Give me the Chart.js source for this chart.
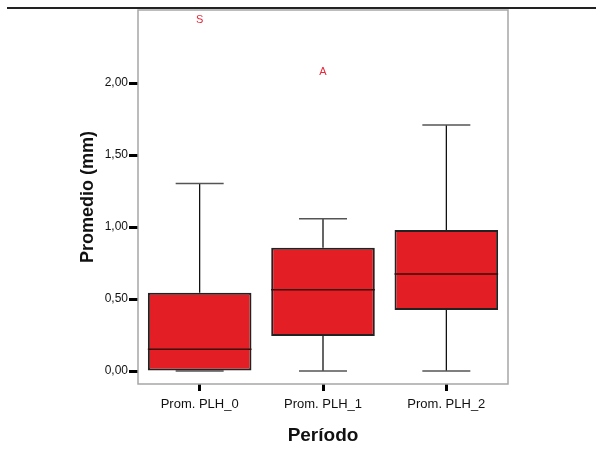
<!DOCTYPE html>
<html>
<head>
<meta charset="utf-8">
<script src="https://cdn.jsdelivr.net/npm/chart.js@4"></script>
<style>
  html, body { margin: 0; padding: 0; background: #fff; }
  #wrap { width: 596px; height: 451px; }
</style>
</head>
<body>
<div id="wrap"><canvas id="grafico"></canvas></div>
<script>
const categorias = ['Prom. PLH_0', 'Prom. PLH_1', 'Prom. PLH_2'];
const bigoteMin = [0, 0, 0];
const cuartil1 = [0, 0.243, 0.424];
const mediana = [0.151, 0.565, 0.674];
const cuartil3 = [0.544, 0.856, 0.979];
const bigoteMax = [1.303, 1.058, 1.708];
// valores atípicos (categoría, valor, etiqueta)
const atipicoCat = [0, 1];
const atipicoValor = [2.44, 2.08];
const atipicoEtiqueta = ['S', 'A'];
const ticksY = [0, 0.5, 1, 1.5, 2];

const rojo = '#e31e24';

// bigotes, medianas, marco y etiquetas de atípicos
const cajasPlugin = {
  id: 'cajas',
  beforeDatasetsDraw(chart) {
    const { ctx, scales: { x, y } } = chart;
    ctx.save();
    categorias.forEach((c, i) => {
      const cx = x.getPixelForValue(i);
      const half = 24;
      ctx.strokeStyle = '#000';
      ctx.lineWidth = 1.2;
      ctx.beginPath();
      ctx.moveTo(cx, y.getPixelForValue(cuartil3[i]));
      ctx.lineTo(cx, y.getPixelForValue(bigoteMax[i]));
      ctx.moveTo(cx, y.getPixelForValue(cuartil1[i]));
      ctx.lineTo(cx, y.getPixelForValue(bigoteMin[i]));
      ctx.stroke();
      ctx.strokeStyle = '#555';
      ctx.lineWidth = 1.5;
      ctx.beginPath();
      [bigoteMax[i], bigoteMin[i]].forEach(v => {
        const py = y.getPixelForValue(v);
        ctx.moveTo(cx - half, py);
        ctx.lineTo(cx + half, py);
      });
      ctx.stroke();
    });
    ctx.restore();
  },
  afterDatasetsDraw(chart) {
    const { ctx, chartArea: a, scales: { x, y } } = chart;
    const meta = chart.getDatasetMeta(0);
    ctx.save();
    meta.data.forEach((bar, i) => {
      const py = y.getPixelForValue(mediana[i]);
      ctx.strokeStyle = '#3a0a0a';
      ctx.lineWidth = 1.5;
      ctx.beginPath();
      ctx.moveTo(bar.x - bar.width / 2, py);
      ctx.lineTo(bar.x + bar.width / 2, py);
      ctx.stroke();
    });
    ctx.fillStyle = '#e8283a';
    ctx.font = '11px "Liberation Sans", Arial, sans-serif';
    ctx.textAlign = 'center';
    ctx.textBaseline = 'middle';
    atipicoCat.forEach((c, k) => {
      ctx.fillText(atipicoEtiqueta[k], x.getPixelForValue(c), y.getPixelForValue(atipicoValor[k]));
    });
    // marco gris
    ctx.strokeStyle = '#a6a6a6';
    ctx.lineWidth = 1.5;
    ctx.strokeRect(a.left, a.top, a.right - a.left, a.bottom - a.top);
    // línea superior
    ctx.strokeStyle = '#222';
    ctx.lineWidth = 2;
    ctx.beginPath();
    ctx.moveTo(7, 8);
    ctx.lineTo(596, 8);
    ctx.stroke();
    ctx.restore();
  }
};

new Chart(document.getElementById('grafico').getContext('2d'), {
  type: 'bar',
  data: {
    labels: categorias,
    datasets: [{
      label: 'Promedio',
      data: cuartil1.map((v, i) => [v, cuartil3[i]]),
      backgroundColor: rojo,
      borderColor: '#222',
      borderWidth: 2,
      borderSkipped: false,
      barPercentage: 0.84,
      categoryPercentage: 1
    }]
  },
  options: {
    responsive: true,
    maintainAspectRatio: false,
    animation: false,
    layout: { padding: { left: 60, top: 10, right: 88, bottom: 0 } },
    plugins: {
      legend: { display: false },
      tooltip: { enabled: false }
    },
    scales: {
      x: {
        offset: true,
        border: { display: false },
        grid: {
          offset: false,
          drawOnChartArea: false,
          drawTicks: true,
          tickLength: 7,
          tickWidth: 3,
          tickColor: '#000'
        },
        ticks: {
          padding: 6,
          color: '#111',
          font: { family: '"Liberation Sans", Arial, sans-serif', size: 13 }
        },
        title: {
          display: true,
          text: 'Período',
          color: '#111',
          padding: { top: 0, bottom: 4 },
          font: { family: '"Liberation Sans", Arial, sans-serif', size: 19, weight: 'bold' }
        },
        afterFit: s => { s.height = 67; }
      },
      y: {
        min: -0.09,
        max: 2.507,
        border: { display: false },
        grid: {
          drawOnChartArea: false,
          drawTicks: true,
          tickLength: 9,
          tickWidth: 3,
          tickColor: '#000'
        },
        afterBuildTicks: s => { s.ticks = ticksY.map(v => ({ value: v })); },
        ticks: {
          padding: 1,
          color: '#111',
          font: { family: '"Liberation Sans", Arial, sans-serif', size: 12 },
          callback: v => v.toFixed(2).replace('.', ',')
        },
        title: {
          display: true,
          text: 'Promedio (mm)',
          color: '#111',
          padding: { top: 17, bottom: 0 },
          font: { family: '"Liberation Sans", Arial, sans-serif', size: 18, weight: 'bold' }
        },
        afterFit: s => { s.width = 78; }
      }
    }
  },
  plugins: [cajasPlugin]
});
</script>
</body>
</html>
